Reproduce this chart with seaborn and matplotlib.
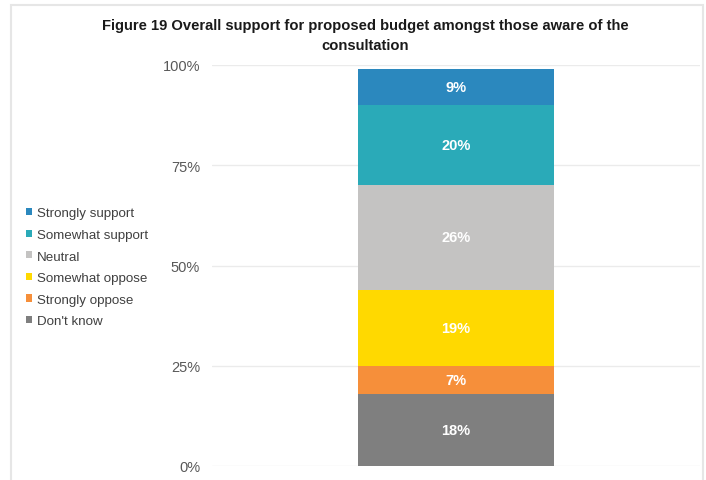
import matplotlib
matplotlib.use("Agg")
import matplotlib.pyplot as plt
from matplotlib.patches import Rectangle, Patch
import seaborn as sns
import pandas as pd

# Survey responses, stacked from the bottom of the bar upwards
responses = ["Don't know", "Strongly oppose", "Somewhat oppose",
             "Neutral", "Somewhat support", "Strongly support"]
shares = [18, 7, 19, 26, 20, 9]
colors = ["#7F7F7F", "#F68F3A", "#FFD900", "#C4C3C2", "#2AAAB8", "#2B88BE"]
y_ticks = [0, 25, 50, 75, 100]
y_tick_labels = ["0%", "25%", "50%", "75%", "100%"]
title = ("Figure 19 Overall support for proposed budget amongst those aware of the\n"
         "consultation")

df = pd.DataFrame({"response": responses, "share": shares, "group": ["All"] * len(responses)})
df["bottom"] = df["share"].cumsum() - df["share"]

sns.set_theme(style="white")
plt.rcParams["font.family"] = ["Liberation Sans", "DejaVu Sans"]

fig = plt.figure(figsize=(7.06, 4.81), dpi=100)
ax = fig.add_axes([212 / 706, 1 - 467 / 481, 488 / 706, 401 / 481])

for _, row in df.iterrows():
    color = colors[responses.index(row["response"])]
    sns.barplot(data=pd.DataFrame([row]), x="group", y="share", bottom=row["bottom"],
                color=color, width=0.4, ax=ax, saturation=1, linewidth=0)
    ax.text(0, row["bottom"] + row["share"] / 2, f"{row['share']:.0f}%",
            ha="center", va="center", color="white", fontsize=10.5, fontweight="bold")

ax.set_xlim(-0.5, 0.5)
ax.set_ylim(0, 100)
ax.set_yticks(y_ticks)
ax.set_yticklabels(y_tick_labels, fontsize=10.5, color="#595959")
ax.set_xticks([])
ax.set_xlabel("")
ax.set_ylabel("")
ax.tick_params(axis="y", length=0, pad=8.5)
ax.yaxis.grid(True, color="#EBEBEB", linewidth=1)
ax.set_axisbelow(True)
for spine in ax.spines.values():
    spine.set_visible(False)

# Legend on the left, top entry first
handles = [Patch(facecolor=c, edgecolor="none") for c in colors[::-1]]
fig.legend(handles, responses[::-1], loc="upper left",
           bbox_to_anchor=(21 / 706, 1 - 203 / 481), frameon=False,
           fontsize=9.6, labelcolor="#404040", handlelength=0.45, handleheight=0.45,
           handletextpad=0.35, labelspacing=0.72, borderaxespad=0)

fig.text(365 / 706, 1 - 36 / 481, title, ha="center", va="center",
         fontsize=10.6, fontweight="bold", color="#1A1A1A", linespacing=1.5)

# Light chart-area frame
fig.add_artist(Rectangle((11 / 706, -0.05), 692 / 706, 1.05 - 6 / 481,
                         transform=fig.transFigure, fill=False,
                         edgecolor="#E6E6E6", linewidth=1.5))

fig.savefig("out.png", dpi=100)
